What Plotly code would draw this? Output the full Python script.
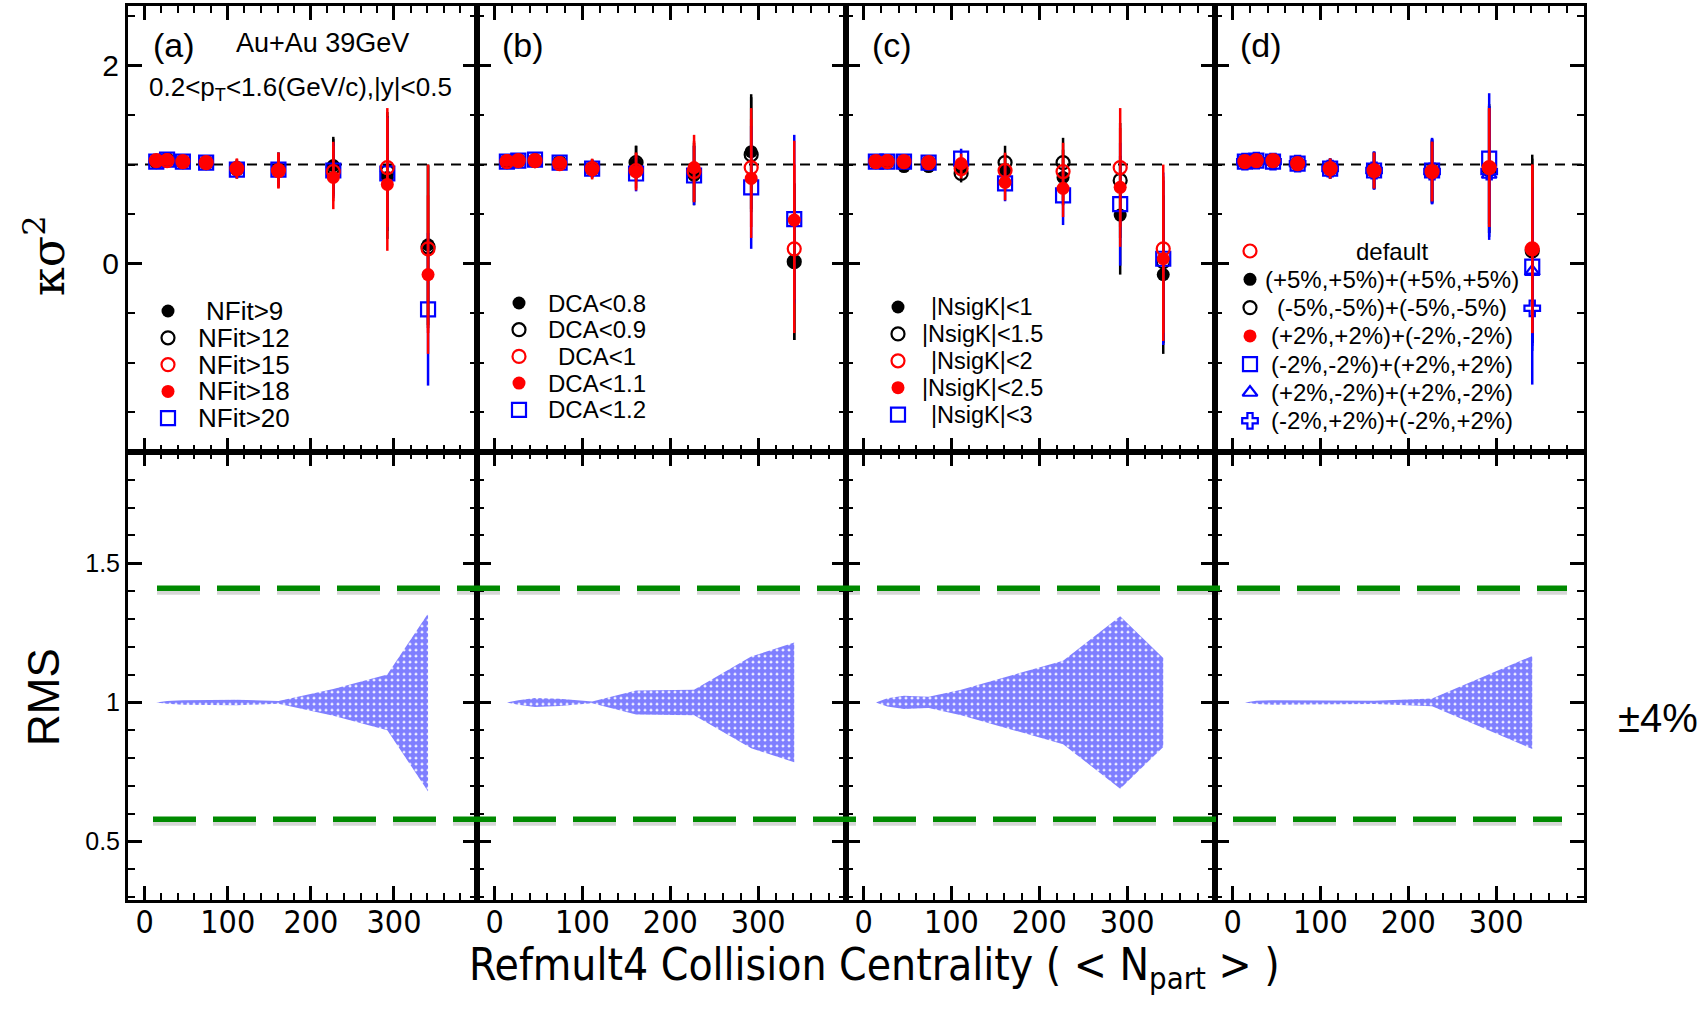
import plotly.graph_objects as go

W, H = 1705, 1011

# centrality bins, mean number of participants
npart = [14, 27, 46, 74, 111, 161, 227, 292, 341]

# (a) number of fit points
nfit9 = [1.03, 1.05, 1.03, 1.02, 0.95, 0.95, 0.99, 0.87, 0.19]
nfit12 = [1.03, 1.05, 1.03, 1.02, 0.96, 0.95, 0.97, 0.93, 0.17]
nfit15 = [1.04, 1.04, 1.03, 1.02, 0.96, 0.94, 0.93, 0.97, 0.15]
nfit18 = [1.04, 1.05, 1.03, 1.02, 0.96, 0.94, 0.87, 0.80, -0.11]
nfit20 = [1.03, 1.05, 1.03, 1.02, 0.95, 0.95, 0.94, 0.91, -0.46]
nfit9_err = [0.02, 0.02, 0.03, 0.04, 0.09, 0.17, 0.29, 0.62, 0.81]
nfit12_err = [0.02, 0.02, 0.03, 0.04, 0.09, 0.17, 0.29, 0.60, 0.82]
nfit15_err = [0.02, 0.02, 0.03, 0.04, 0.10, 0.18, 0.30, 0.60, 0.85]
nfit18_err = [0.02, 0.02, 0.03, 0.04, 0.10, 0.18, 0.32, 0.67, 0.80]
nfit20_err = [0.02, 0.02, 0.03, 0.04, 0.09, 0.17, 0.28, 0.57, 0.77]

# (b) distance of closest approach
dca08 = [1.03, 1.04, 1.04, 1.02, 0.96, 1.01, 0.89, 1.13, 0.02]
dca09 = [1.03, 1.04, 1.04, 1.02, 0.96, 1.02, 0.92, 1.10, 0.02]
dca10 = [1.03, 1.04, 1.04, 1.01, 0.96, 0.94, 0.93, 0.97, 0.15]
dca11 = [1.04, 1.04, 1.04, 1.02, 0.95, 0.93, 0.97, 0.86, 0.44]
dca12 = [1.03, 1.04, 1.05, 1.02, 0.96, 0.91, 0.89, 0.77, 0.45]
dca08_err = [0.02, 0.02, 0.03, 0.04, 0.09, 0.18, 0.30, 0.58, 0.79]
dca09_err = [0.02, 0.02, 0.03, 0.04, 0.09, 0.17, 0.30, 0.58, 0.79]
dca10_err = [0.02, 0.02, 0.03, 0.04, 0.10, 0.18, 0.31, 0.60, 0.85]
dca11_err = [0.02, 0.02, 0.03, 0.04, 0.10, 0.19, 0.33, 0.60, 0.80]
dca12_err = [0.02, 0.02, 0.03, 0.04, 0.09, 0.18, 0.30, 0.62, 0.85]

# (c) dE/dx n-sigma for kaons
nsig10 = [1.03, 1.03, 0.98, 0.98, 0.97, 0.94, 0.87, 0.49, -0.11]
nsig15 = [1.03, 1.03, 1.03, 1.02, 0.91, 1.02, 1.02, 0.84, 0.02]
nsig20 = [1.03, 1.03, 1.03, 1.02, 0.96, 0.94, 0.93, 0.97, 0.15]
nsig25 = [1.03, 1.04, 1.03, 1.02, 1.01, 0.82, 0.76, 0.77, 0.05]
nsig30 = [1.03, 1.03, 1.03, 1.02, 1.06, 0.81, 0.69, 0.60, 0.05]
nsig10_err = [0.02, 0.02, 0.03, 0.04, 0.09, 0.17, 0.28, 0.60, 0.80]
nsig15_err = [0.02, 0.02, 0.03, 0.04, 0.09, 0.17, 0.25, 0.58, 0.82]
nsig20_err = [0.02, 0.02, 0.03, 0.04, 0.10, 0.18, 0.29, 0.60, 0.85]
nsig25_err = [0.02, 0.02, 0.03, 0.04, 0.10, 0.18, 0.29, 0.60, 0.83]
nsig30_err = [0.02, 0.02, 0.03, 0.04, 0.10, 0.18, 0.30, 0.62, 0.87]

# (d) efficiency variations
eff_default = [1.03, 1.04, 1.04, 1.01, 0.96, 0.94, 0.93, 0.97, 0.15]
eff_p5p5 = [1.03, 1.04, 1.04, 1.01, 0.96, 0.94, 0.93, 0.96, 0.15]
eff_m5m5 = [1.03, 1.04, 1.04, 1.01, 0.96, 0.94, 0.93, 0.95, 0.13]
eff_p2p2 = [1.03, 1.04, 1.04, 1.01, 0.96, 0.94, 0.93, 0.97, 0.15]
eff_m2m2 = [1.03, 1.04, 1.03, 1.01, 0.96, 0.94, 0.94, 1.06, -0.03]
eff_p2m2 = [1.03, 1.04, 1.03, 1.01, 0.96, 0.94, 0.93, 0.90, -0.08]
eff_m2p2 = [1.03, 1.04, 1.03, 1.01, 0.96, 0.94, 0.93, 0.93, -0.45]
eff_default_err = [0.02, 0.02, 0.03, 0.04, 0.10, 0.18, 0.30, 0.60, 0.85]
eff_p5p5_err = [0.02, 0.02, 0.03, 0.04, 0.10, 0.19, 0.32, 0.65, 0.95]
eff_m5m5_err = [0.02, 0.02, 0.03, 0.04, 0.10, 0.18, 0.31, 0.64, 0.93]
eff_p2p2_err = [0.02, 0.02, 0.03, 0.04, 0.10, 0.18, 0.30, 0.60, 0.85]
eff_m2m2_err = [0.02, 0.02, 0.03, 0.04, 0.10, 0.19, 0.33, 0.66, 0.80]
eff_p2m2_err = [0.02, 0.02, 0.03, 0.04, 0.10, 0.19, 0.33, 0.66, 0.80]
eff_m2p2_err = [0.02, 0.02, 0.03, 0.04, 0.10, 0.19, 0.33, 0.66, 0.77]

# relative RMS of the variations (band drawn as 1 +/- rms)
rms_nfit = [0.0, 0.005, 0.008, 0.010, 0.010, 0.005, 0.048, 0.100, 0.320]
rms_dca = [0.0, 0.008, 0.016, 0.013, 0.003, 0.043, 0.046, 0.165, 0.215]
rms_nsig = [0.0, 0.015, 0.024, 0.020, 0.046, 0.090, 0.150, 0.310, 0.160]
rms_eff = [0.0, 0.006, 0.008, 0.008, 0.008, 0.006, 0.014, 0.100, 0.167]

rms_limit_hi = 1.41
rms_limit_lo = 0.58

FONT = "Liberation Sans, Arial, Helvetica, sans-serif"
NARROW = "Liberation Sans Narrow, Arial Narrow, DejaVu Sans Condensed, Liberation Sans, sans-serif"
SERIF = "DejaVu Serif, Liberation Serif, serif"

MARK = {
    "black_fill": ("circle", "black", False),
    "black_open": ("circle-open", "black", True),
    "red_open": ("circle-open", "red", True),
    "red_fill": ("circle", "red", False),
    "blue_square": ("square-open", "blue", True),
    "blue_triangle": ("triangle-up-open", "blue", True),
    "blue_cross": ("cross-open", "blue", True),
}

panels = [
    dict(tag="(a)", rms=rms_nfit,
         series=[("NFit&gt;9", nfit9, nfit9_err, "black_fill"),
                 ("NFit&gt;12", nfit12, nfit12_err, "black_open"),
                 ("NFit&gt;15", nfit15, nfit15_err, "red_open"),
                 ("NFit&gt;18", nfit18, nfit18_err, "red_fill"),
                 ("NFit&gt;20", nfit20, nfit20_err, "blue_square")],
         order=[0, 1, 4, 2, 3],
         leg=dict(kx=168, tx=244, y0=311, dy=26.8, size=26)),
    dict(tag="(b)", rms=rms_dca,
         series=[("DCA&lt;0.8", dca08, dca08_err, "black_fill"),
                 ("DCA&lt;0.9", dca09, dca09_err, "black_open"),
                 ("DCA&lt;1", dca10, dca10_err, "red_open"),
                 ("DCA&lt;1.1", dca11, dca11_err, "red_fill"),
                 ("DCA&lt;1.2", dca12, dca12_err, "blue_square")],
         order=[0, 1, 4, 2, 3],
         leg=dict(kx=519, tx=597, y0=303, dy=26.7, size=24)),
    dict(tag="(c)", rms=rms_nsig,
         series=[("|NsigK|&lt;1", nsig10, nsig10_err, "black_fill"),
                 ("|NsigK|&lt;1.5", nsig15, nsig15_err, "black_open"),
                 ("|NsigK|&lt;2", nsig20, nsig20_err, "red_open"),
                 ("|NsigK|&lt;2.5", nsig25, nsig25_err, "red_fill"),
                 ("|NsigK|&lt;3", nsig30, nsig30_err, "blue_square")],
         order=[0, 1, 4, 3, 2],
         leg=dict(kx=898, tx=982, y0=307, dy=26.9, size=23.5)),
    dict(tag="(d)", rms=rms_eff,
         series=[("default", eff_default, eff_default_err, "red_open"),
                 ("(+5%,+5%)+(+5%,+5%)", eff_p5p5, eff_p5p5_err, "black_fill"),
                 ("(-5%,-5%)+(-5%,-5%)", eff_m5m5, eff_m5m5_err, "black_open"),
                 ("(+2%,+2%)+(-2%,-2%)", eff_p2p2, eff_p2p2_err, "red_fill"),
                 ("(-2%,-2%)+(+2%,+2%)", eff_m2m2, eff_m2m2_err, "blue_square"),
                 ("(+2%,-2%)+(+2%,-2%)", eff_p2m2, eff_p2m2_err, "blue_triangle"),
                 ("(-2%,+2%)+(-2%,+2%)", eff_m2p2, eff_m2p2_err, "blue_cross")],
         order=[1, 2, 4, 5, 6, 3, 0],
         leg=dict(kx=1250, tx=1392, y0=251, dy=28.3, size=24)),
]

# pixel geometry of the 2x4 grid of pads
PAD_X = [(128, 477), (477, 846), (846, 1215), (1215, 1584)]
TOP_Y = (6, 452)
BOT_Y = (452, 900)


def ax(letter, n):
    """Plotly axis reference: 'x', 'x2', ... for trace/shape refs."""
    return letter if n == 1 else f"{letter}{n}"


def marker(style, size=13):
    sym, col, hollow = MARK[style]
    if sym.startswith("square"):
        size += 1
    return dict(symbol=sym, size=size, color=col,
                line=dict(width=2.2 if hollow else 0, color=col))


fig = go.Figure()

for i, p in enumerate(panels):
    xa, ya = ax("x", i + 1), ax("y", i + 1)
    for k in p["order"]:
        label, vals, errs, style = p["series"][k]
        col = MARK[style][1]
        fig.add_trace(go.Scatter(
            x=npart, y=vals, mode="markers", name=label,
            marker=marker(style),
            error_y=dict(type="data", array=errs, visible=True, width=0,
                         thickness=2.5, color=col),
            xaxis=xa, yaxis=ya, showlegend=False))

    # RMS band
    xb, yb = ax("x", i + 5), ax("y", i + 5)
    lower = [1 - r for r in p["rms"]]
    upper = [1 + r for r in p["rms"]]
    fig.add_trace(go.Scatter(x=npart, y=lower, mode="lines",
                             line=dict(width=0, color="blue"),
                             xaxis=xb, yaxis=yb, showlegend=False))
    fig.add_trace(go.Scatter(x=npart, y=upper, mode="lines",
                             line=dict(width=0, color="blue"),
                             fill="tonexty", fillcolor="white",
                             fillpattern=dict(shape=".", size=6, solidity=0.8,
                                              fgcolor="#0000ff", bgcolor="white"),
                             xaxis=xb, yaxis=yb, showlegend=False))

    # legend keys (pixel overlay axes)
    lg = p["leg"]
    for r, (label, vals, errs, style) in enumerate(p["series"]):
        ky = lg["y0"] + r * lg["dy"]
        fig.add_trace(go.Scatter(x=[lg["kx"]], y=[ky], mode="markers",
                                 marker=marker(style), xaxis="x9", yaxis="y9",
                                 showlegend=False, hoverinfo="skip"))
        fig.add_annotation(x=lg["tx"], y=ky, xref="x9", yref="y9", text=label,
                           showarrow=False, xanchor="center", yanchor="middle",
                           font=dict(family=FONT, size=lg["size"], color="black"))

    fig.add_annotation(x=PAD_X[i][0] + 46, y=45, xref="x9", yref="y9",
                       text=p["tag"], showarrow=False,
                       font=dict(family=FONT, size=34, color="black"))

layout = dict(width=W, height=H, autosize=False,
              margin=dict(l=0, r=0, t=0, b=0, pad=0),
              paper_bgcolor="white", plot_bgcolor="rgba(0,0,0,0)",
              showlegend=False)

minor_x = dict(ticks="inside", ticklen=7, tickwidth=2, dtick=20, tick0=0,
               tickcolor="black")
for i, (x0, x1) in enumerate(PAD_X):
    common_x = dict(range=[-20, 399.9], domain=[x0 / W, x1 / W], showline=True,
                    linewidth=3, linecolor="black", mirror="allticks",
                    ticks="inside", ticklen=14, tickwidth=2.5, tickcolor="black",
                    dtick=100, tick0=0, minor=minor_x, showgrid=False,
                    zeroline=False, fixedrange=True)
    layout[f"xaxis{i+1}"] = dict(anchor=ax("y", i + 1), showticklabels=False, **common_x)
    layout[f"xaxis{i+5}"] = dict(anchor=ax("y", i + 5), showticklabels=True,
                                 ticklabelstandoff=-8,
                                 tickfont=dict(family=NARROW, size=32, color="black"),
                                 **common_x)
    common_y = dict(showline=True, linewidth=3, linecolor="black", mirror="allticks",
                    ticks="inside", ticklen=14, tickwidth=2.5, tickcolor="black",
                    showgrid=False, zeroline=False, fixedrange=True)
    layout[f"yaxis{i+1}"] = dict(anchor=ax("x", i + 1), range=[-1.9, 2.6],
                                 domain=[1 - TOP_Y[1] / H, 1 - TOP_Y[0] / H],
                                 dtick=2, tick0=0, showticklabels=(i == 0),
                                 tickfont=dict(family=FONT, size=30, color="black"),
                                 minor=dict(ticks="inside", ticklen=7, tickwidth=2,
                                            dtick=0.5, tick0=0, tickcolor="black"),
                                 **common_y)
    layout[f"yaxis{i+5}"] = dict(anchor=ax("x", i + 5), range=[0.29, 1.9],
                                 domain=[1 - BOT_Y[1] / H, 1 - BOT_Y[0] / H],
                                 dtick=0.5, tick0=0, showticklabels=(i == 0),
                                 tickfont=dict(family=FONT, size=25, color="black"),
                                 minor=dict(ticks="inside", ticklen=7, tickwidth=2,
                                            dtick=0.1, tick0=0, tickcolor="black"),
                                 **common_y)

# full-page overlay in pixel units for keys and labels
layout["xaxis9"] = dict(domain=[0, 1], range=[0, W], visible=False, anchor="y9",
                        fixedrange=True)
layout["yaxis9"] = dict(domain=[0, 1], range=[H, 0], visible=False, anchor="x9",
                        fixedrange=True)
fig.update_layout(**layout)

# reference line at unity in the upper pads
for i in range(4):
    fig.add_shape(type="line", xref=ax("x", i + 1) + " domain", x0=0, x1=1,
                  yref=ax("y", i + 1), y0=1, y1=1, layer="below",
                  line=dict(color="black", width=2, dash="10px,7px"))

# RMS limits across the lower pads, with a faint drop shadow
for yv, xa, xb in [(rms_limit_hi, 157, 1567), (rms_limit_lo, 153, 1562)]:
    fig.add_shape(type="line", xref="paper", x0=xa / W, x1=xb / W,
                  yref="y5", y0=yv - 0.012, y1=yv - 0.012,
                  line=dict(color="rgba(0,0,0,0.16)", width=6, dash="43px,17px"))
    fig.add_shape(type="line", xref="paper", x0=xa / W, x1=xb / W,
                  yref="y5", y0=yv, y1=yv,
                  line=dict(color="#008a00", width=5.5, dash="43px,17px"))

# text labels
fig.add_annotation(x=322, y=43, xref="x9", yref="y9", text="Au+Au 39GeV",
                   showarrow=False, font=dict(family=FONT, size=27, color="black"))
fig.add_annotation(x=300, y=88, xref="x9", yref="y9",
                   text="0.2&lt;p<sub>T</sub>&lt;1.6(GeV/c),|y|&lt;0.5",
                   showarrow=False, font=dict(family=FONT, size=26, color="black"))
fig.add_annotation(x=45, y=256, xref="x9", yref="y9", text="κσ<sup>2</sup>",
                   textangle=-90, showarrow=False,
                   font=dict(family=SERIF, size=46, color="black"))
fig.add_annotation(x=43, y=697, xref="x9", yref="y9", text="RMS",
                   textangle=-90, showarrow=False,
                   font=dict(family=FONT, size=44, color="black"))
fig.add_annotation(x=1658, y=718, xref="x9", yref="y9", text="±4%",
                   showarrow=False, font=dict(family=FONT, size=40, color="black"))
fig.add_annotation(x=874, y=967, xref="x9", yref="y9",
                   text="Refmult4 Collision Centrality ( &lt; N<sub>part</sub> &gt; )",
                   showarrow=False, font=dict(family=NARROW, size=44, color="black"))

fig.write_html("out.html", config={"responsive": False})
